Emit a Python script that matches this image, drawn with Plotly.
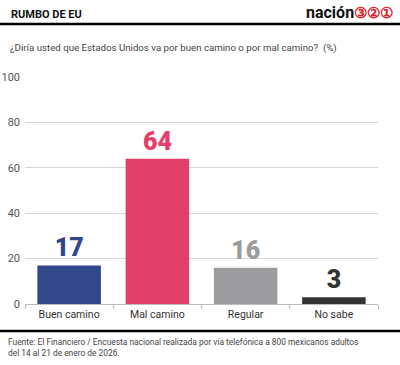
import plotly.graph_objects as go

categories = ["Buen camino", "Mal camino", "Regular", "No sabe"]
values = [17, 64, 16, 3]
colors = ["#33488a", "#e23f6a", "#9c9c9e", "#333333"]
y_ticks = [0, 20, 40, 60, 80, 100]

title = "RUMBO DE EU"
subtitle = "¿Diría usted que Estados Unidos va por buen camino o por mal camino?  (%)"
source = ("Fuente: El Financiero / Encuesta nacional realizada por vía telefónica a 800 mexicanos adultos<br>"
          "del 14 al 21 de enero de 2026.")

W, H = 400, 365
ML, MR, MT, MB = 25, 22, 77, 61

fig = go.Figure()
fig.add_trace(go.Bar(
    x=categories, y=values,
    marker=dict(color=colors, line=dict(width=0)),
    width=0.72,
    text=[str(v) for v in values],
    textposition="outside",
    textfont=dict(family="Roboto", size=25, color=colors, weight=900),
    cliponaxis=False,
    hoverinfo="skip",
))

fig.update_layout(
    width=W, height=H,
    margin=dict(l=ML, r=MR, t=MT, b=MB, autoexpand=False),
    paper_bgcolor="white", plot_bgcolor="white",
    showlegend=False,
    font=dict(family="Roboto", color="#333333"),
    xaxis=dict(
        automargin=False,
        showgrid=False, showline=True, linecolor="#bbbbbb", linewidth=1,
        ticks="outside", tickson="boundaries", ticklen=4, tickcolor="#bbbbbb",
        tickfont=dict(size=10.5, color="#333333"),
    ),
    yaxis=dict(
        automargin=False,
        range=[0, 100], tickvals=y_ticks, showgrid=True, gridcolor="#d6d6d6",
        gridwidth=1, zeroline=False, showline=False,
        tickfont=dict(size=11, color="#555555"), ticks="", ticklabelstandoff=4,
    ),
)

plot_h = H - MT - MB
plot_w = W - ML - MR
def py(y_px):
    return (H - MB - y_px) / plot_h
def px(x_px):
    return (x_px - ML) / plot_w

fig.add_shape(type="line", xref="paper", yref="paper", x0=px(0), x1=px(400),
              y0=py(24), y1=py(24), line=dict(color="black", width=2.5))
fig.add_shape(type="line", xref="paper", yref="paper", x0=px(0), x1=px(400),
              y0=py(331), y1=py(331), line=dict(color="black", width=2.5))

fig.add_annotation(text="<b>" + title + "</b>", xref="paper", yref="paper",
                   x=px(9), y=py(14), xanchor="left", yanchor="middle",
                   showarrow=False, font=dict(size=11, color="#111111"))
fig.add_annotation(text="<b>nación</b><span style='color:#e0202a;font-size:15px'><b>③②①</b></span>",
                   xref="paper", yref="paper", x=px(395), y=py(12),
                   xanchor="right", yanchor="middle", showarrow=False,
                   font=dict(size=16, color="#111111"))
fig.add_annotation(text=subtitle, xref="paper", yref="paper",
                   x=px(8), y=py(48), xanchor="left", yanchor="middle",
                   showarrow=False, font=dict(size=9.7, color="#444444"))
fig.add_annotation(text=source, xref="paper", yref="paper",
                   x=px(6), y=py(335), xanchor="left", yanchor="top", align="left",
                   showarrow=False, font=dict(size=8.4, color="#444444"))

fig.write_html("out.html", config={"displayModeBar": False},
               post_script="document.body.style.margin='0';document.body.style.overflow='hidden';")
